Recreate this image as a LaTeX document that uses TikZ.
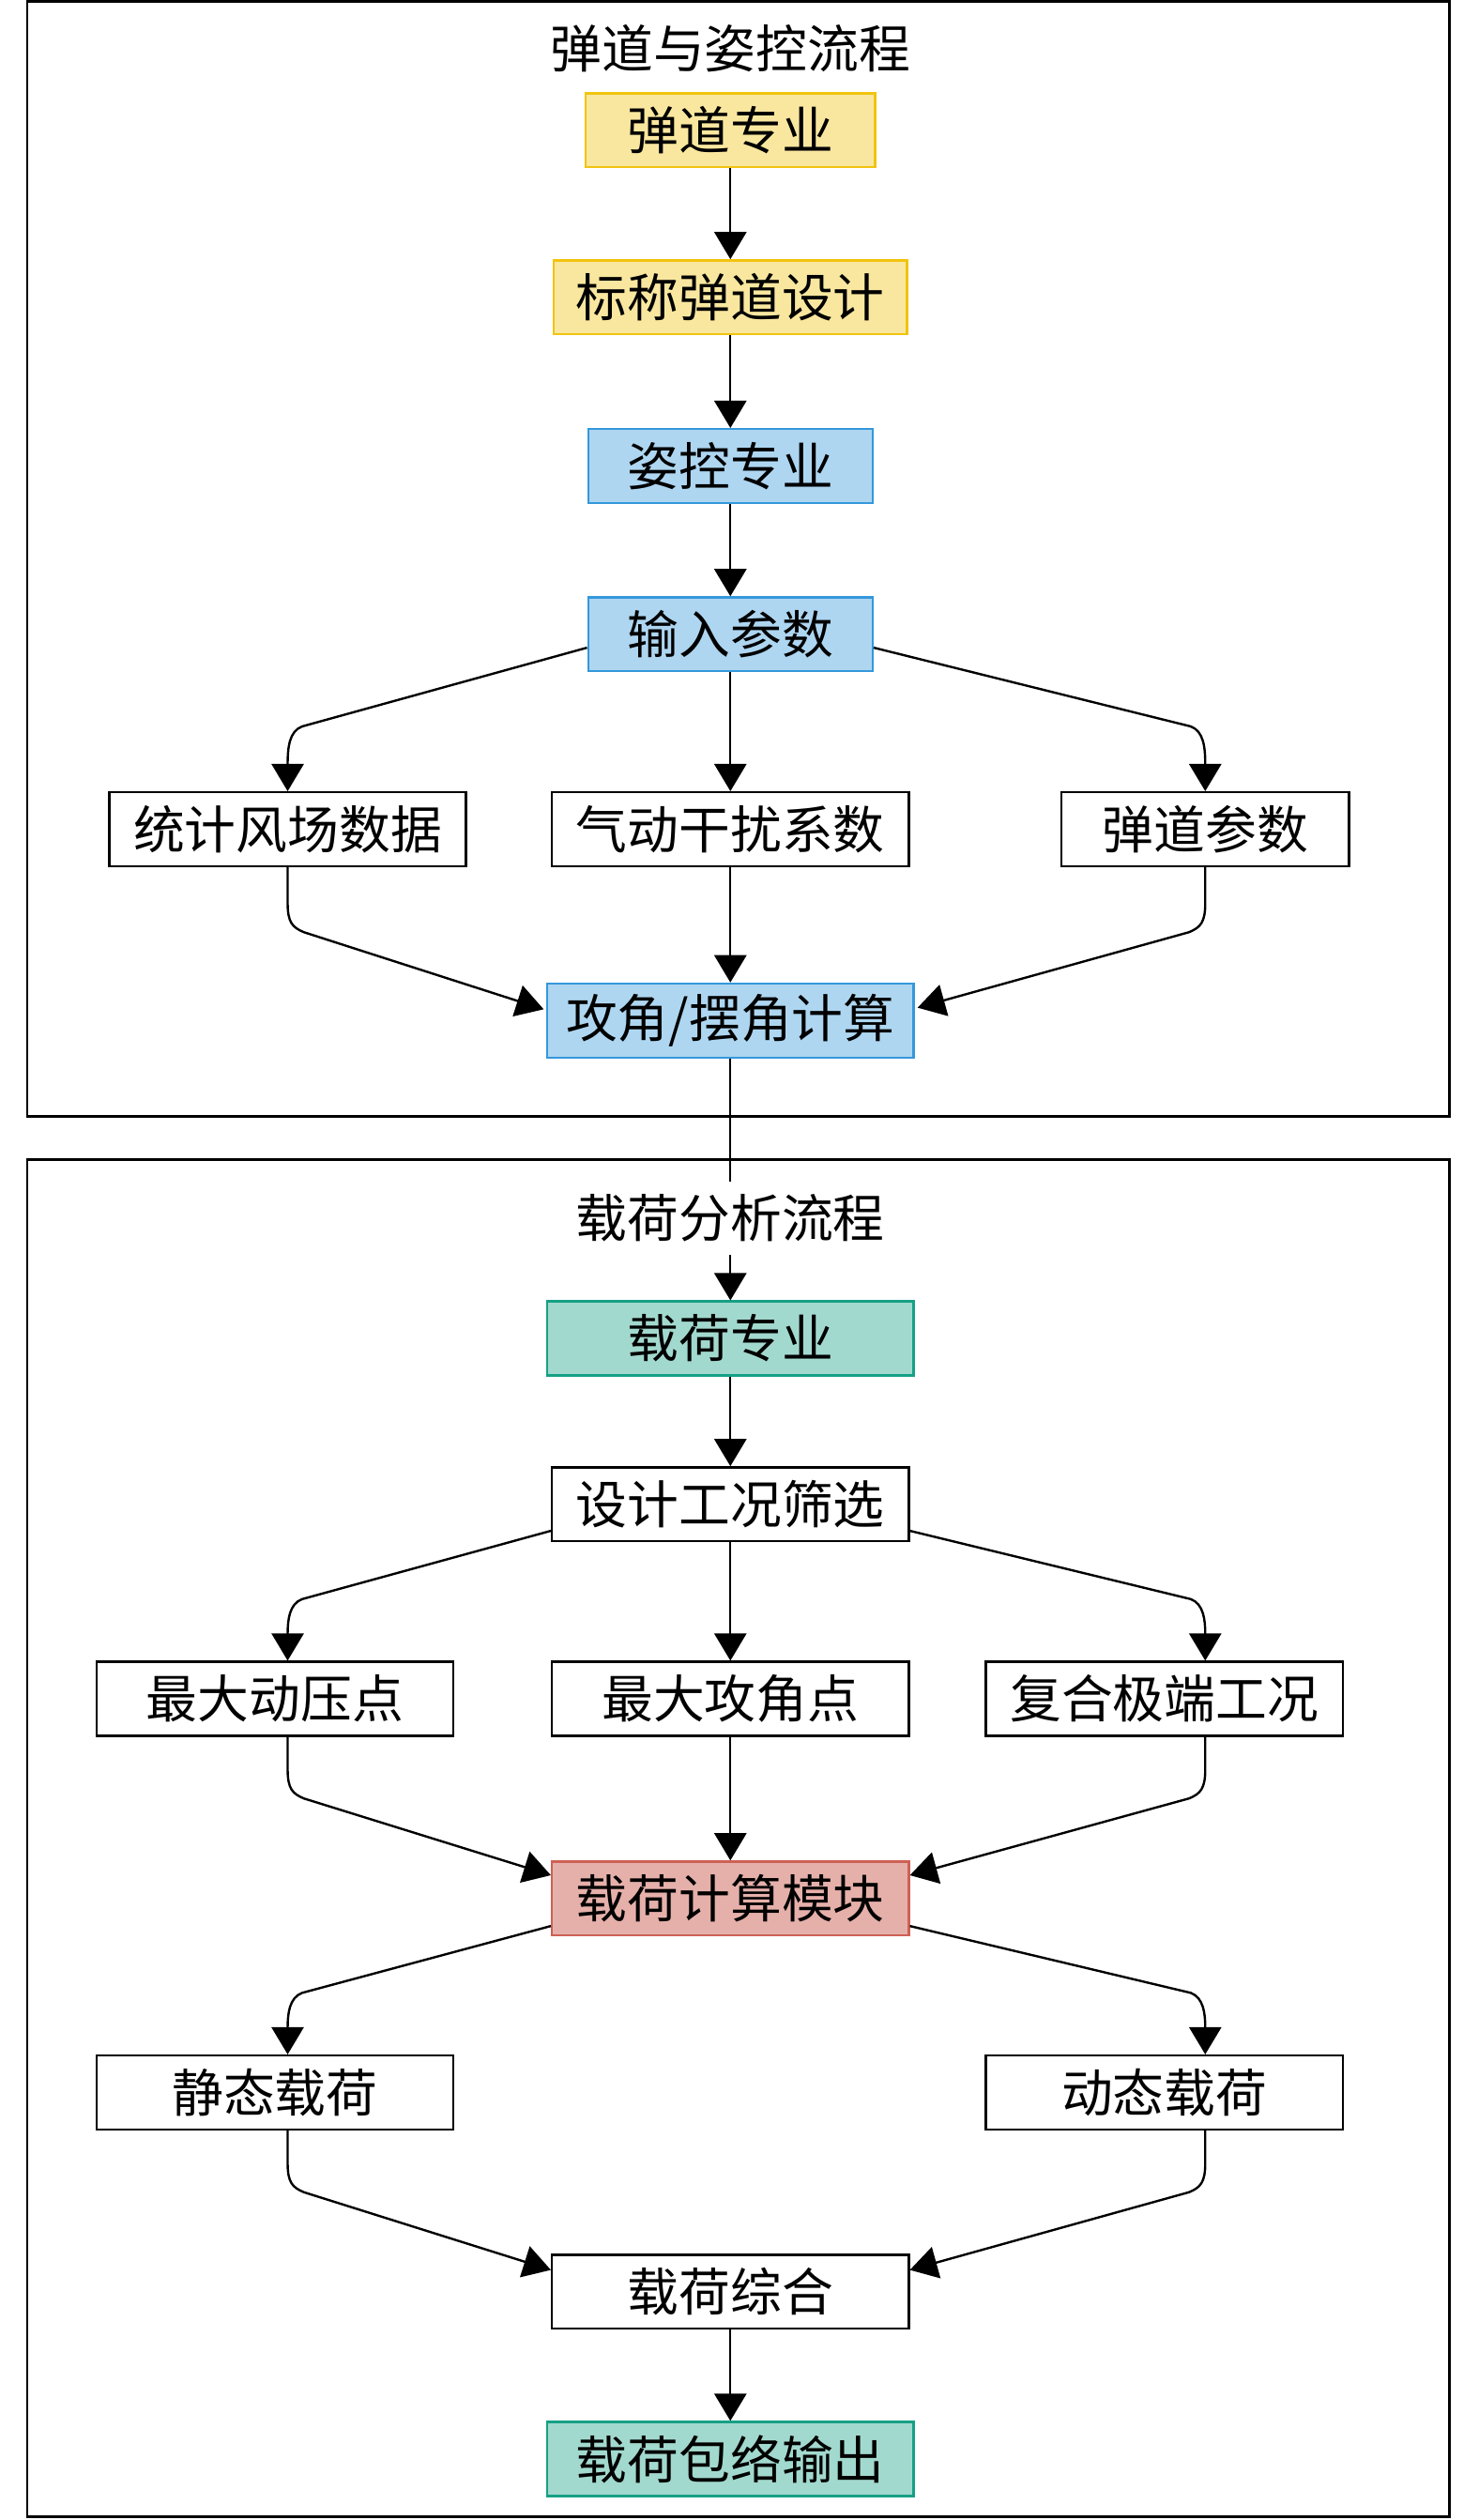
\documentclass[tikz,border=0pt]{standalone}
\usepackage{fontspec}
\newfontfamily\cjk{Noto Sans CJK SC}
\usetikzlibrary{arrows.meta}
\definecolor{yfill}{HTML}{F9E79F}
\definecolor{ydraw}{HTML}{F1C40F}
\definecolor{bfill}{HTML}{AED6F1}
\definecolor{bdraw}{HTML}{3498DB}
\definecolor{gfill}{HTML}{A2D9CE}
\definecolor{gdraw}{HTML}{16A085}
\definecolor{rfill}{HTML}{E6B0AA}
\definecolor{rdraw}{HTML}{CD6155}
\tikzset{
  box/.style={draw=black, fill=white, line width=1.4pt, minimum height=46pt, inner sep=0pt,
    font=\cjk\fontsize{32}{36}\selectfont},
  ybox/.style={box, fill=yfill, draw=ydraw},
  bbox/.style={box, fill=bfill, draw=bdraw},
  gbox/.style={box, fill=gfill, draw=gdraw},
  rbox/.style={box, fill=rfill, draw=rdraw},
  ttl/.style={fill=white, inner sep=0pt, minimum height=46pt, font=\cjk\fontsize{32}{36}\selectfont},
  frame/.style={draw=black, line width=1.6pt},
  arr/.style={-{Triangle[length=17pt,width=20pt]}, line width=1.4pt}
}
\begin{document}
\begin{tikzpicture}[x=1pt,y=1pt]
\useasboundingbox (0,0) rectangle (920,-1568);
\draw[frame] (17,-1) rectangle (902,-694.5);
\draw[frame] (17,-721.5) rectangle (902,-1566);

% nodes
\node[ybox, minimum width=180pt] (a) at (454.5,-81) {弹道专业};
\node[ybox, minimum width=220pt] (b) at (454.5,-185) {标称弹道设计};
\node[bbox, minimum width=177pt] (c) at (454.5,-290) {姿控专业};
\node[bbox, minimum width=177pt] (d) at (454.5,-394.7) {输入参数};
\node[box, minimum width=222pt] (e) at (179,-516) {统计风场数据};
\node[box, minimum width=222pt] (f) at (454.5,-516) {气动干扰系数};
\node[box, minimum width=179pt] (g) at (750,-516) {弹道参数};
\node[bbox, minimum width=228pt] (h) at (454.5,-635) {攻角/摆角计算};
\node[gbox, minimum width=228pt] (i) at (454.5,-832.8) {载荷专业};
\node[box, minimum width=222pt] (j) at (454.5,-936) {设计工况筛选};
\node[box, minimum width=222pt] (k) at (171,-1057) {最大动压点};
\node[box, minimum width=222pt] (l) at (454.5,-1057) {最大攻角点};
\node[box, minimum width=222pt] (m) at (724.5,-1057) {复合极端工况};
\node[rbox, minimum width=222pt] (n) at (454.5,-1181.3) {载荷计算模块};
\node[box, minimum width=222pt] (o) at (171,-1302) {静态载荷};
\node[box, minimum width=222pt] (p) at (724.5,-1302) {动态载荷};
\node[box, minimum width=222pt] (q) at (454.5,-1426) {载荷综合};
\node[gbox, minimum width=228pt] (r) at (454.5,-1530) {载荷包络输出};

% connectors
\draw[arr] (a.south) -- (b.north);
\draw[arr] (b.south) -- (c.north);
\draw[arr] (c.south) -- (d.north);
\draw[arr] (d.south) -- (f.north);
\draw[arr] (d.west |- 0,-403) -- (188,-452) .. controls (180,-455) and (179,-465) .. (e.north);
\draw[arr] (d.east |- 0,-403) -- (741,-452) .. controls (749,-455) and (750,-465) .. (g.north);
\draw[arr] (f.south) -- (h.north);
\draw[arr] (e.south) -- (179,-562) .. controls (179,-574) and (182,-577) .. (189,-580) -- (338.3,-628);
\draw[arr] (g.south) -- (750,-562) .. controls (750,-574) and (747,-577) .. (740,-580) -- (571,-627);
\draw[arr] (h.south) -- (i.north);
\draw[arr] (i.south) -- (j.north);
\draw[arr] (j.west |- 0,-952.5) -- (188,-995) .. controls (180,-998) and (179,-1008) .. (k.north -| e);
\draw[arr] (j.east |- 0,-952.5) -- (741,-995) .. controls (749,-998) and (750,-1008) .. (m.north -| g);
\draw[arr] (j.south) -- (l.north);
\draw[arr] (k.south -| e) -- (179,-1101) .. controls (179,-1113) and (182,-1116) .. (189,-1119) -- (n.west |- 0,-1166.8);
\draw[arr] (m.south -| g) -- (750,-1101) .. controls (750,-1113) and (747,-1116) .. (740,-1119) -- (n.east |- 0,-1166.8);
\draw[arr] (l.south) -- (n.north);
\draw[arr] (n.west |- 0,-1198.4) -- (188,-1240) .. controls (180,-1243) and (179,-1253) .. (o.north -| e);
\draw[arr] (n.east |- 0,-1198.4) -- (741,-1240) .. controls (749,-1243) and (750,-1253) .. (p.north -| g);
\draw[arr] (o.south -| e) -- (179,-1346) .. controls (179,-1358) and (182,-1361) .. (189,-1364) -- (q.west |- 0,-1412.4);
\draw[arr] (p.south -| g) -- (750,-1346) .. controls (750,-1358) and (747,-1361) .. (740,-1364) -- (q.east |- 0,-1412.4);
\draw[arr] (q.south) -- (r.north);

% cluster titles
\node[ttl] (t1) at (454.5,-30) {弹道与姿控流程};
\node[ttl] (t2) at (454.5,-758) {载荷分析流程};
\end{tikzpicture}
\end{document}
